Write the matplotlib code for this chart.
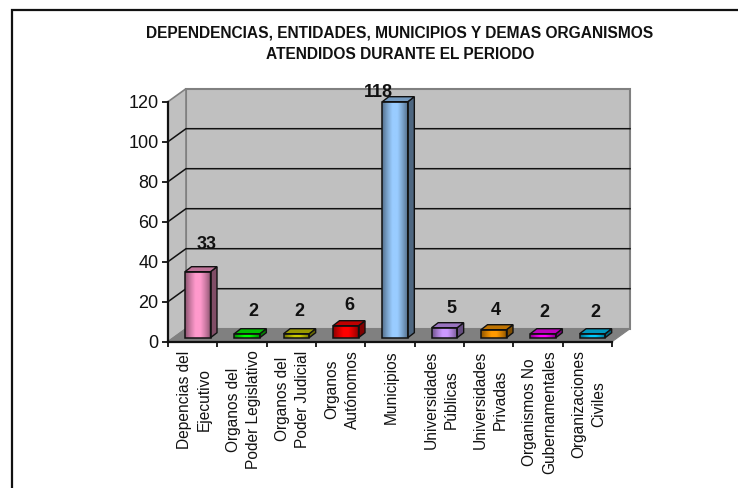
import numpy as np
import matplotlib
matplotlib.use("Agg")
import matplotlib.pyplot as plt
from matplotlib.patches import Polygon, Rectangle
from matplotlib.colors import LinearSegmentedColormap, to_rgb
from matplotlib.transforms import ScaledTranslation

plt.rcParams['font.family'] = ['Liberation Sans', 'DejaVu Sans']

# --- data ---
title = "DEPENDENCIAS, ENTIDADES, MUNICIPIOS Y DEMAS ORGANISMOS\nATENDIDOS DURANTE EL PERIODO"
categories = ["Depencias del\nEjecutivo", "Organos del\nPoder Legislativo", "Organos del\nPoder Judicial",
              "Organos\nAutónomos", "Municipios", "Universidades\nPúblicas", "Universidades\nPrivadas",
              "Organismos No\nGubernamentales", "Organizaciones\nCiviles"]
values = [33, 2, 2, 6, 118, 5, 4, 2, 2]
y_ticks = [0, 20, 40, 60, 80, 100, 120]

# --- style ---
colors = ["#FF99CC", "#00FF00", "#CCCC00", "#FF0000", "#99CCFF", "#CC99FF", "#FF9900", "#FF00FF", "#00CCFF"]
label_shift_x = [9, 6, 3, 4, -17, 7, 2, 1, 3]     # px, right of the bar centre
label_shift_y = [23, 18, 18, 16, 5, 15, 15, 17, 17]  # px, baseline above the bar's front top

W, H = 738, 488
L, R, T, B = 168.0, 612.0, 101.7, 341.7
fig = plt.figure(figsize=(W / 100, H / 100), dpi=100, facecolor="white")
ax = fig.add_axes([L / W, 1 - B / H, (R - L) / W, (B - T) / H])
n = len(categories)
ax.set_xlim(0, n)
ax.set_ylim(0, 120)
ax.patch.set_visible(False)

px = n / (R - L)      # data units per pixel, x
py = 120 / (B - T)    # data units per pixel, y
dx, dy = 18 * px, 13 * py   # depth of the chart box

# frame (runs off the right and the bottom of the picture)
fig.add_artist(Rectangle((12.5 / W, -0.2), 1.2, 1.2 - 9.5 / H, transform=fig.transFigure,
                         fill=False, ec="#111111", lw=1.6))

# walls and floor
ax.add_patch(Polygon([(dx, dy), (n + dx, dy), (n + dx, 120 + dy), (dx, 120 + dy)], closed=True,
                     fc="#C0C0C0", ec="#808080", lw=1.5, clip_on=False, zorder=1))
ax.add_patch(Polygon([(0, 0), (dx, dy), (dx, 120 + dy), (0, 120)], closed=True,
                     fc="#C0C0C0", ec="#808080", lw=1.2, clip_on=False, zorder=1))
ax.add_patch(Polygon([(0, 0), (n, 0), (n + dx, dy), (dx, dy)], closed=True,
                     fc="#808080", ec="#808080", lw=0.8, clip_on=False, zorder=1.2))
for v in y_ticks[1:-1]:
    ax.plot([0, dx, n + dx], [v, v + dy, v + dy], color="#111111", lw=1.1, clip_on=False, zorder=1.5,
            solid_joinstyle="miter")

# bars
bar_l, bar_w, bar_base = 17 * px, 25.5 * px, 4 * py
bdx, bdy = 6.5 * px, 5 * py
for i, (v, c) in enumerate(zip(values, colors)):
    x0, x1 = i + bar_l, i + bar_l + bar_w
    y0, y1 = bar_base, bar_base + v
    base = np.array(to_rgb(c))
    dark = base * 0.55
    side = base * 0.5
    top = base * 0.75
    cmap = LinearSegmentedColormap.from_list("g", [dark, base * 0.8, base, base, base * 0.8, dark])
    ax.imshow(np.linspace(0, 1, 64).reshape(1, -1), extent=[x0, x1, y0, y1], aspect="auto", cmap=cmap,
              clip_on=False, zorder=3, interpolation="bilinear")
    ax.add_patch(Rectangle((x0, y0), x1 - x0, y1 - y0, fill=False, ec="#111111", lw=1.1, clip_on=False, zorder=3.2))
    ax.add_patch(Polygon([(x1, y0), (x1 + bdx, y0 + bdy), (x1 + bdx, y1 + bdy), (x1, y1)], closed=True,
                         fc=side, ec="#111111", lw=1.0, clip_on=False, zorder=3.1))
    ax.add_patch(Polygon([(x0, y1), (x1, y1), (x1 + bdx, y1 + bdy), (x0 + bdx, y1 + bdy)], closed=True,
                         fc=top, ec="#111111", lw=1.0, clip_on=False, zorder=3.1))
    ax.text((x0 + x1) / 2 + label_shift_x[i] * px, y1 + label_shift_y[i] * py, str(v), ha="center", va="baseline",
            fontsize=13, fontweight="bold", color="#111111", clip_on=False, zorder=5)

ax.set_xlim(0, n)
ax.set_ylim(0, 120)

# axes
for s in ("top", "right"):
    ax.spines[s].set_visible(False)
for s in ("left", "bottom"):
    ax.spines[s].set_linewidth(1.6)
    ax.spines[s].set_color("#111111")
    ax.spines[s].set_zorder(2)
ax.set_yticks(y_ticks)
ax.tick_params(axis="y", length=4.5, width=1.3, pad=2.2, labelsize=13, color="#111111", labelcolor="#111111")
ax.set_xticks(np.arange(n + 1))
ax.set_xticklabels([])
ax.tick_params(axis="x", which="major", length=3.8, width=1.3, color="#111111")
ax.set_xticks(np.arange(n) + 0.5, minor=True)
labels = ax.set_xticklabels(categories, minor=True, rotation=90, ha="center", va="top", multialignment="center",
                            fontsize=11.2, color="#111111", linespacing=1.42)
ax.tick_params(axis="x", which="minor", length=0, pad=6.2)
shift = ScaledTranslation(1.5 / 100, 0, fig.dpi_scale_trans)
for lab in labels:
    lab.set_transform(lab.get_transform() + shift)

fig.text(400 / W, 1 - 44 / H, title, ha="center", va="center", fontsize=11.2, fontweight="bold",
         color="#111111", linespacing=1.55)

fig.savefig("out.png", dpi=100)
